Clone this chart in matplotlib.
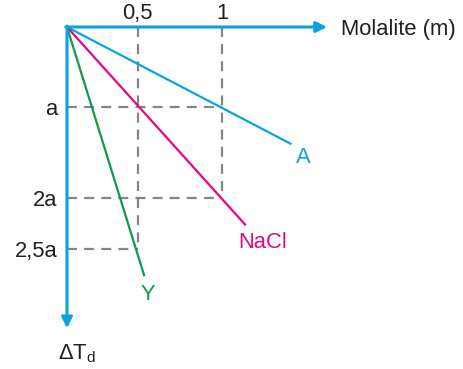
import numpy as np
import matplotlib
matplotlib.use('Agg')
import matplotlib.pyplot as plt

# schematic freezing point depression chart (values in units of m and a)
series_names = ['A', 'NaCl', 'Y']
end_molality = [1.41, 1.14, 0.54]
end_delta_t = [1.41, 2.27, 2.77]
label_molality = [1.48, 1.24, 0.56]
label_delta_t = [1.56, 2.44, 2.95]

x_ticks = [0.5, 1]
x_tick_labels = ['0,5', '1']
y_ticks = [1, 2, 2.5]
y_tick_labels = ['a', '2a', '2,5a']

# dashed guides: (molality, delta_t) corners
guide_points = [(0.5, 2.5), (1, 2)]
guide_levels = [(1, 1), (2, 1), (2.5, 0.5)]

blue = '#0aa3e0'
magenta = '#e5077f'
green = '#119a47'
grey = '#858585'
text_color = '#231f20'
colors = [blue, magenta, green]

# the drawing is not to linear scale, so map values piecewise to position
x_data = [-1, 0, 0.5, 1, 3]
x_pos = [-155, 0, 70.6, 155, 493]
y_data = [-1, 0, 1, 2, 2.5, 5]
y_pos = [-80, 0, 80, 171, 222, 477]

plt.rcParams['font.family'] = ['Liberation Sans', 'DejaVu Sans']
fs = 15.8

fig = plt.figure(figsize=(4.64, 3.69), dpi=100)
ax = fig.add_axes([67 / 464, 0, 397 / 464, 1 - 27 / 369])
ax.set_xscale('function', functions=(lambda v: np.interp(v, x_data, x_pos),
                                     lambda p: np.interp(p, x_pos, x_data)))
ax.set_yscale('function', functions=(lambda v: np.interp(v, y_data, y_pos),
                                     lambda p: np.interp(p, y_pos, y_data)))
ax.set_xlim(0, 2.43)
ax.set_ylim(3.68, 0)

for s in ax.spines.values():
    s.set_visible(False)

ax.xaxis.tick_top()
ax.set_xticks(x_ticks)
ax.set_xticklabels(x_tick_labels)
ax.set_yticks(y_ticks)
ax.set_yticklabels(y_tick_labels)
ax.xaxis.set_minor_locator(matplotlib.ticker.NullLocator())
ax.yaxis.set_minor_locator(matplotlib.ticker.NullLocator())
ax.tick_params(axis='x', length=0, pad=2.5, labelsize=fs, colors=text_color)
ax.tick_params(axis='y', length=0, pad=7, labelsize=fs, colors=text_color)

dash = dict(color=grey, lw=1.6, dashes=(4.5, 3.2), zorder=1)
for m, dt in guide_points:
    ax.plot([m, m], [0, dt], **dash)
for dt, m in guide_levels:
    ax.plot([0, m], [dt, dt], **dash)

for name, m, dt, lm, ldt, c in zip(series_names, end_molality, end_delta_t,
                                   label_molality, label_delta_t, colors):
    ax.plot([0, m], [0, dt], color=c, lw=1.6, solid_capstyle='butt', zorder=2)
    ax.text(lm, ldt, name, color=c, fontsize=fs, ha='center', va='center')

arrow = dict(arrowstyle='-|>', color=blue, lw=2.2, mutation_scale=16,
             shrinkA=0, shrinkB=0)
ax.annotate('', xy=(1.62, 0), xytext=(-0.008, 0), arrowprops=arrow, zorder=3)
ax.annotate('', xy=(0, 3.28), xytext=(0, -0.012), arrowprops=arrow, zorder=3)

ax.text(1.70, 0, 'Molalite (m)', fontsize=fs, color=text_color,
        ha='left', va='center_baseline')
ax.text(0.07, 3.53, r'ΔT$_{\mathregular{d}}$', fontsize=fs, color=text_color,
        ha='center', va='center')

fig.savefig('out.png', dpi=100)
